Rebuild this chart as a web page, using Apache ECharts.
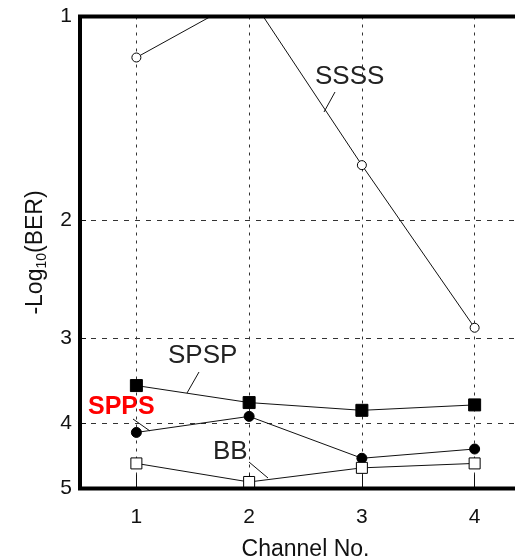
<!DOCTYPE html>
<html>
<head>
<meta charset="utf-8">
<script src="https://cdn.jsdelivr.net/npm/echarts@6.0.0/dist/echarts.min.js"></script>
<style>
  html, body { margin: 0; padding: 0; background: #fff; }
  #main { width: 515px; height: 559px; }
</style>
</head>
<body>
<div id="main"></div>
<script>
// channel numbers on x
const channels = [1, 2, 3, 4];
// -log10(BER) per scheme
const ssss = [1.15, 0.93, 1.66, 2.89];
const spsp = [3.52, 3.73, 3.83, 3.76];
const spps = [4.13, 3.91, 4.51, 4.37];
const bb = [4.59, 4.89, 4.66, 4.59];
const yTicks = [1, 2, 3, 4, 5];

const font = '"Liberation Sans", Arial, sans-serif';

function pairs(vals) {
    return channels.map(function (c, i) { return [c, vals[i]]; });
}

function lineSeries(name, vals, symbol, size, fill) {
    return {
        name: name,
        type: 'line',
        data: pairs(vals),
        symbol: symbol,
        symbolSize: size,
        showAllSymbol: true,
        clip: true,
        lineStyle: { color: '#111', width: 1 },
        itemStyle: { color: fill, borderColor: '#000', borderWidth: 1, opacity: 1 },
        emphasis: { disabled: true },
        z: 3
    };
}

let option = {
    animation: false,
    backgroundColor: '#fff',
    textStyle: { fontFamily: font },
    grid: {
        left: 80,
        top: 16.5,
        right: -16,
        bottom: 70.5,
        outerBoundsMode: 'none',
        containLabel: false,
        show: true,
        borderColor: '#000',
        borderWidth: 4,
        z: 5
    },
    xAxis: {
        type: 'value',
        min: 0.5,
        max: 4.5,
        name: 'Channel No.',
        nameLocation: 'middle',
        nameGap: 50,
        nameTextStyle: { fontSize: 23, color: '#111', fontFamily: font },
        axisLine: { show: false },
        axisTick: { show: true, inside: true, length: 14, customValues: channels, lineStyle: { color: '#111', width: 1 } },
        axisLabel: { customValues: channels, margin: 18, fontSize: 21, color: '#111', fontFamily: font },
        splitLine: { show: true, lineStyle: { color: '#333', width: 1, type: [3, 5] } }
    },
    yAxis: {
        type: 'log',
        logBase: 10,
        min: 1,
        max: 5,
        inverse: true,
        name: '-Log{sub|10}(BER)',
        nameLocation: 'middle',
        nameGap: 31,
        nameTextStyle: {
            fontSize: 23, color: '#111', fontFamily: font,
            rich: { sub: { fontSize: 14, color: '#111', fontFamily: font, verticalAlign: 'bottom', padding: [12, 0, 0, 0] } }
        },
        axisLine: { show: false },
        axisTick: { show: true, inside: true, length: 6, customValues: yTicks, lineStyle: { color: '#111', width: 1 } },
        axisLabel: { customValues: yTicks, margin: 8, fontSize: 21, color: '#111', fontFamily: font,
            formatter: function (v) { return String(Math.round(v)); } },
        splitLine: { show: true, lineStyle: { color: '#333', width: 1, type: [5, 6] } }
    },
    series: [
        lineSeries('SSSS', ssss, 'circle', 9, '#fff'),
        lineSeries('SPSP', spsp, 'rect', 12, '#000'),
        lineSeries('SPPS', spps, 'circle', 10, '#000'),
        lineSeries('BB', bb, 'rect', 11, '#fff')
    ],
    graphic: [
        { type: 'text', left: 315, top: 64, style: { text: 'SSSS', font: '26px ' + font, fill: '#222' } },
        { type: 'line', shape: { x1: 335, y1: 92, x2: 324, y2: 112 }, style: { stroke: '#111', lineWidth: 1 } },
        { type: 'text', left: 168, top: 343, style: { text: 'SPSP', font: '26px ' + font, fill: '#222' } },
        { type: 'line', shape: { x1: 199, y1: 372, x2: 187, y2: 393 }, style: { stroke: '#111', lineWidth: 1 } },
        { type: 'text', left: 88, top: 395, style: { text: 'SPPS', font: 'bold 25px ' + font, fill: '#f00' } },
        { type: 'line', shape: { x1: 133, y1: 419, x2: 150, y2: 431 }, style: { stroke: '#111', lineWidth: 1 } },
        { type: 'text', left: 213, top: 439, style: { text: 'BB', font: '26px ' + font, fill: '#222' } },
        { type: 'line', shape: { x1: 249, y1: 462, x2: 268, y2: 478 }, style: { stroke: '#111', lineWidth: 1 } }
    ]
};

let myChart = echarts.init(document.getElementById('main'));
myChart.setOption(option);
</script>
</body>
</html>
